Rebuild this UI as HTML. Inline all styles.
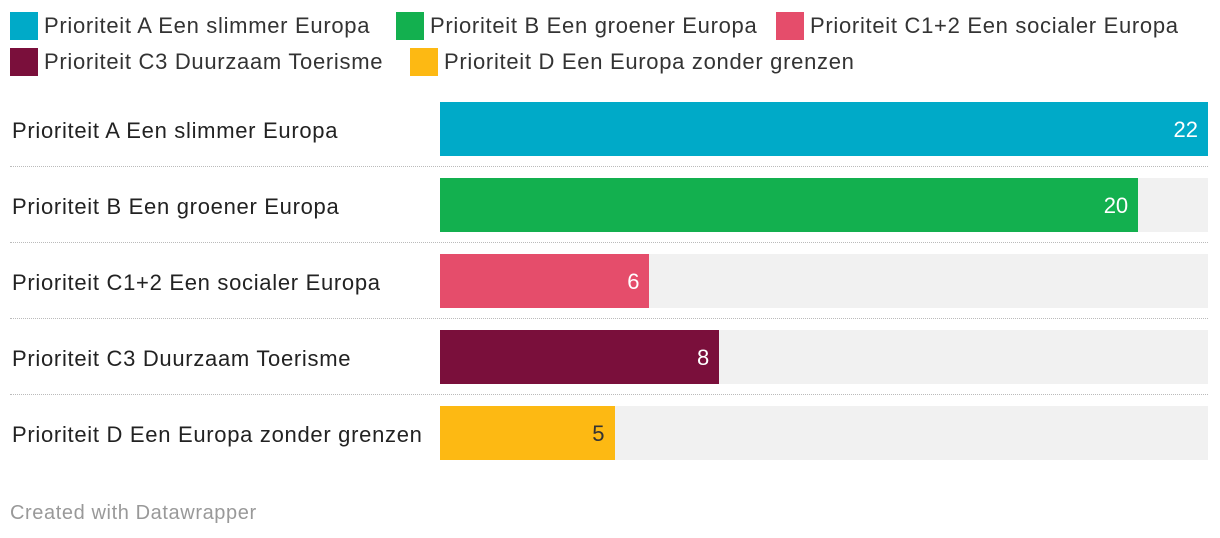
<!DOCTYPE html>
<html><head><meta charset="utf-8">
<style>
body{margin:0;width:1220px;height:538px;background:#fff;font-family:"Liberation Sans",sans-serif;position:relative;overflow:hidden;color:#333}
.leg{position:absolute;display:flex;align-items:center;font-size:22px;letter-spacing:0.7px;color:#333;white-space:nowrap}
.sw{width:28px;height:28px;margin-right:6px}
.lbl{position:absolute;left:12px;font-size:22px;letter-spacing:0.7px;color:#222;white-space:nowrap}
.bg{position:absolute;left:440px;width:768px;height:54px;background:#f1f1f1}
.bar{position:absolute;left:440px;height:54px}
.val{position:absolute;font-size:22px;text-align:right}
.sep{position:absolute;left:10px;width:1198px;border-top:1px dotted #bbb}
#foot{position:absolute;left:10px;top:502px;font-size:20px;letter-spacing:0.6px;color:#999}
</style></head><body>
<div id="legend"></div>
<div id="chart"></div>
<div id="foot">Created with Datawrapper</div>
<script>
const categories=["Prioriteit A Een slimmer Europa","Prioriteit B Een groener Europa","Prioriteit C1+2 Een socialer Europa","Prioriteit C3 Duurzaam Toerisme","Prioriteit D Een Europa zonder grenzen"];
const values=[22,20,6,8,5];
const colors=["#00aac8","#13b04f","#e54d6b","#7a0f3b","#fdb913"];
const valueColors=["#fff","#fff","#fff","#fff","#333"];
const legendPos=[[10,12],[396,12],[776,12],[10,48],[410,48]];
const maxV=22,x0=440,W=768;
function xs(v){return v/maxV*W;}
const lg=document.getElementById('legend');
categories.forEach((c,i)=>{
 const d=document.createElement('div');d.className='leg';
 
 
 d.style.left=legendPos[i][0]+'px';d.style.top=legendPos[i][1]+'px';
 d.innerHTML='<div class="sw" style="background:'+colors[i]+'"></div><span>'+c+'</span>';
 lg.appendChild(d);
});
const ch=document.getElementById('chart');
categories.forEach((c,i)=>{
 const top=102+i*76;
 const l=document.createElement('div');l.className='lbl';l.textContent=c;l.style.top=(top+16)+'px';
 
 
 ch.appendChild(l);
 const bg=document.createElement('div');bg.className='bg';bg.style.top=top+'px';
 
 
 ch.appendChild(bg);
 const b=document.createElement('div');b.className='bar';b.style.top=top+'px';
 b.style.width=xs(values[i])+'px';b.style.background=colors[i];
 
 
 ch.appendChild(b);
 const v=document.createElement('div');v.className='val';v.textContent=values[i];
 v.style.left=(x0+xs(values[i])-110)+'px';v.style.width='100px';v.style.top=(top+15)+'px';v.style.color=valueColors[i];
 
 
 ch.appendChild(v);
 if(i<categories.length-1){
  const s=document.createElement('div');s.className='sep';s.style.top=(top+64)+'px';
  
  
  ch.appendChild(s);
 }
});
</script>
</body></html>
